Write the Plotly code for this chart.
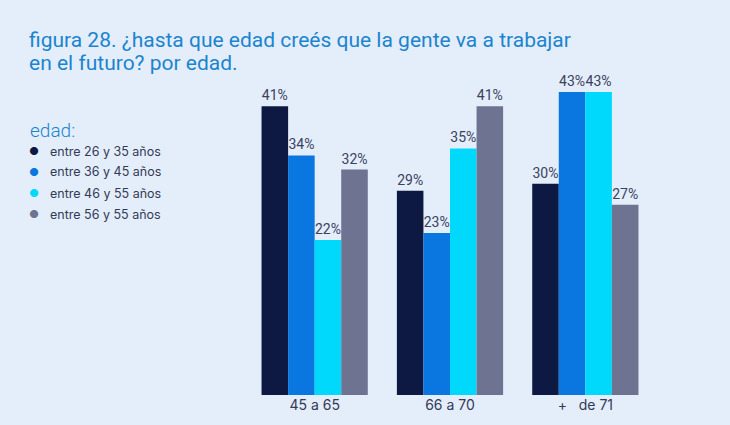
import plotly.graph_objects as go

categories = ["45 a 65", "66 a 70", "+   de 71"]
series_names = ["entre 26 y 35 años", "entre 36 y 45 años", "entre 46 y 55 años", "entre 56 y 55 años"]
values = [
    [41, 29, 30],
    [34, 23, 43],
    [22, 35, 43],
    [32, 41, 27],
]
colors = ["#0e1943", "#0a77e0", "#00d9fb", "#6d7390"]
title_lines = ["figura 28. ¿hasta que edad creés que la gente va a trabajar", "en el futuro? por edad."]

BG = "#e4eefa"
L, T, PW, PH = 247, 78, 406, 317
def px(x): return (x - L) / PW
def py(y): return 1 - (y - T) / PH

fig = go.Figure()
for name, vals, c in zip(series_names, values, colors):
    fig.add_trace(go.Bar(
        x=categories, y=vals, name=name, marker=dict(color=c, line=dict(width=0)),
        text=[f"{v}%" for v in vals], textposition="outside", cliponaxis=False,
        textfont=dict(size=14, color="#3b4160", family="Roboto"),
    ))

fig.update_layout(
    width=730, height=425, paper_bgcolor=BG, plot_bgcolor=BG,
    barmode="group", bargap=0.215, bargroupgap=0,
    margin=dict(l=L, r=730 - L - PW, t=T, b=425 - T - PH),
    showlegend=False,
    font=dict(family="Inter", color="#333a55"),
    xaxis=dict(showgrid=False, showline=False, ticks="", tickfont=dict(size=14, color="#333a55")),
    yaxis=dict(range=[0, 45], visible=False),
)

for i, line in enumerate(title_lines):
    fig.add_annotation(xref="paper", yref="paper", x=px(27), y=py(40 + 23 * i), xanchor="left", yanchor="middle",
                       align="left", showarrow=False, text=line,
                       font=dict(size=21, color="#1b84cf", family="Roboto", weight=400))
fig.add_annotation(xref="paper", yref="paper", x=px(28), y=py(130), xanchor="left", yanchor="middle",
                   showarrow=False, text="edad:", font=dict(size=19, color="#1b84cf", family="Roboto", weight=300))
for i, (n, c) in enumerate(zip(series_names, colors)):
    yc = 151 + 21 * i
    fig.add_annotation(xref="paper", yref="paper", x=px(34), y=py(yc), xanchor="center", yanchor="middle",
                       showarrow=False, text="●", font=dict(size=11, color=c))
    fig.add_annotation(xref="paper", yref="paper", x=px(48), y=py(yc), xanchor="left", yanchor="middle",
                       showarrow=False, text=n, font=dict(size=12.5, color="#333a55", family="Inter"))

fig.write_html("out.html")
